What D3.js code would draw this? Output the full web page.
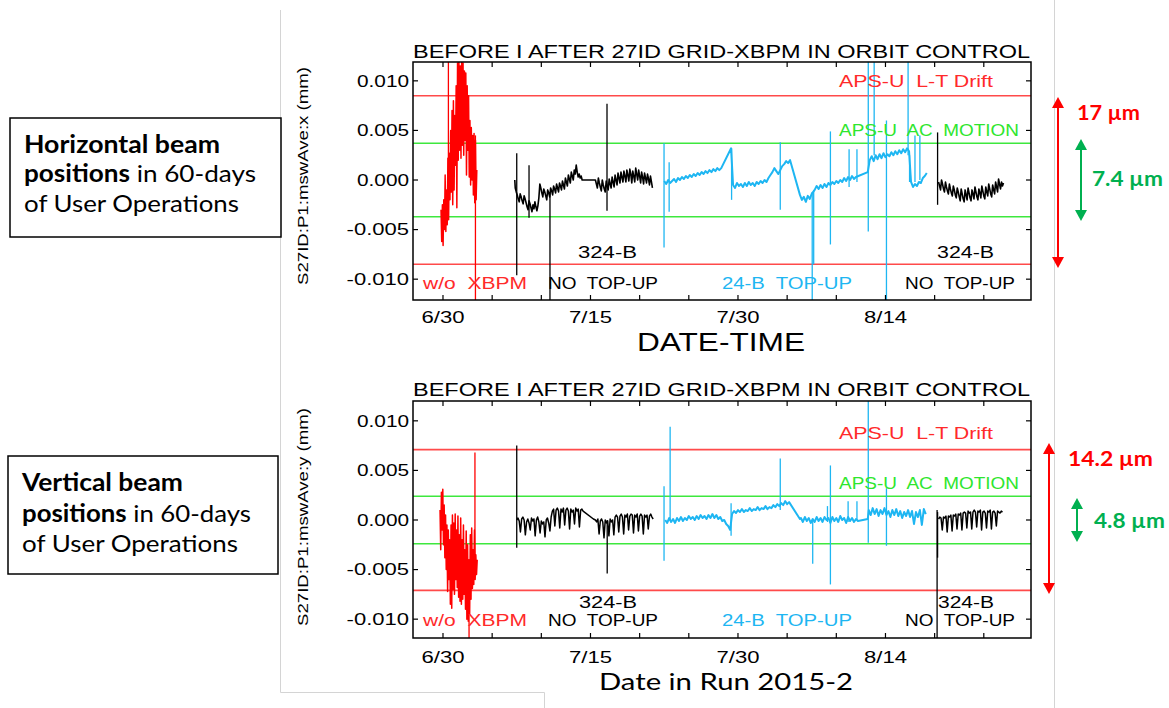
<!DOCTYPE html>
<html><head><meta charset="utf-8">
<script src="https://cdn.jsdelivr.net/npm/d3@7"></script>
<style>html,body{margin:0;padding:0;background:#fff}svg{display:block}</style>
</head><body>
<svg id="chart" width="1169" height="708"></svg>
<script>
// ---------------- DATA ----------------
// x axis: days relative to 2015-06-30
const xDomain = [-3.05, 59.8];
const tickDays = [0, 15, 30, 45];
const tickLabels = ["6/30", "7/15", "7/30", "8/14"];
const minorTickDays = [0, 5, 10, 15, 20, 25, 30, 35, 40, 45, 50, 55];
const yTicks = [-0.010, -0.005, 0.000, 0.005, 0.010];
const yTickLabels = ["-0.010", "-0.005", "0.000", "0.005", "0.010"];
// limits (mm): [L-T drift half width, AC motion half width]
const hLimits = [0.0085, 0.0037];
const vLimits = [0.0071, 0.0024];
const hSpans = ["17 µm", "7.4 µm"];
const vSpans = ["14.2 µm", "4.8 µm"];

// runs: [startDay, stepDay, values]
const hRed = [
  [-0.2, 0.07, [-0.0030, -0.0062, -0.0025, -0.0066, -0.0020, -0.0050, 0.0005, -0.0052, -0.0010, -0.0045,
    0.0022, -0.0040, 0.0027, -0.0020, 0.0050, -0.0012, 0.0070, -0.0025, 0.0080, -0.0010,
    0.0065, 0.0015, 0.0095, -0.0028, 0.0118, 0.0020, 0.0120, 0.0030, 0.0115, 0.0022,
    0.0120, 0.0035, 0.0118, 0.0025, 0.0110, 0.0040, 0.0108, 0.0005, 0.0095, 0.0030,
    0.0085, 0.0003, 0.0060, -0.0005, 0.0053, 0.0000, 0.0045, -0.0015, 0.0047, -0.0023,
    0.0040, -0.0020, 0.0010]]
];
const hRedSpikes = [[0.55, 0.0130, -0.0020], [3.3, 0.0045, -0.0130]];

const hBlack = [
  [7.3, 0, [0.0000]],
  [7.35, 0.1, [-0.0008, -0.0012, -0.0015, -0.0019, -0.0022, -0.0014, -0.0017, -0.0021, -0.0024, -0.0016,
    -0.0019, -0.0023, -0.0027, -0.0030, -0.0021, -0.0024, -0.0028, -0.0032, -0.0025, -0.0029,
    -0.0022, -0.0027, -0.0031, -0.0026, -0.0018, -0.0004, -0.0008, -0.0013, -0.0017, -0.0009,
    -0.0012, -0.0016, -0.0020, -0.0010, -0.0013, -0.0017, -0.0008, -0.0011, -0.0015, -0.0006,
    -0.0009, -0.0013, -0.0004, -0.0008, -0.0012, -0.0003, -0.0006, -0.0010, -0.0001, -0.0005,
    -0.0009, 0.0002, -0.0002, -0.0006, 0.0005, 0.0001, -0.0003, 0.0008, 0.0004, 0.0000,
    0.0010, 0.0006, 0.0015, 0.0008, 0.0003, 0.0006, 0.0002, 0.0004, 0.0000]],
  [15.5, 0.1, [0.0000, -0.0004, -0.0008, 0.0002, -0.0003, -0.0007, -0.0011, 0.0000, -0.0005, -0.0009,
    -0.0012, -0.0001, -0.0006, -0.0010, 0.0001, -0.0004, -0.0008, 0.0003, -0.0002, -0.0007,
    0.0005, 0.0000, -0.0005, 0.0007, 0.0002, -0.0003, 0.0008, 0.0003, -0.0002, 0.0009,
    0.0004, -0.0002, 0.0010, 0.0005, -0.0001, 0.0011, 0.0006, -0.0003, 0.0009, 0.0004,
    -0.0002, 0.0012, 0.0006, 0.0000, 0.0010, 0.0004, -0.0003, 0.0008, 0.0003, -0.0004,
    0.0007, 0.0002, -0.0003, 0.0006, 0.0001, -0.0005, 0.0004, -0.0002, -0.0008]]
];
const hBlack2 = [
  [50.4, 0.1, [-0.0002, -0.0006, -0.0010, 0.0000, -0.0004, -0.0009, -0.0012, -0.0002, -0.0007, -0.0011,
    -0.0014, -0.0004, -0.0009, -0.0013, -0.0016, -0.0006, -0.0010, -0.0015, -0.0018, -0.0008,
    -0.0012, -0.0017, -0.0021, -0.0009, -0.0014, -0.0019, -0.0022, -0.0010, -0.0015, -0.0020,
    -0.0008, -0.0013, -0.0018, -0.0021, -0.0010, -0.0014, -0.0019, -0.0007, -0.0012, -0.0017,
    -0.0020, -0.0009, -0.0013, -0.0018, -0.0006, -0.0011, -0.0016, -0.0019, -0.0007, -0.0012,
    -0.0016, -0.0004, -0.0009, -0.0014, -0.0017, -0.0005, -0.0010, -0.0014, -0.0002, -0.0007,
    -0.0012, 0.0001, -0.0004, -0.0009, -0.0002, -0.0006, -0.0003]]
];
const hBlackSpikes = [[7.5, 0.0027, -0.0096], [8.75, 0.0015, -0.0038], [10.88, -0.0012, -0.0130],
  [16.68, 0.0077, -0.0031], [50.3, 0.0048, -0.0025]];

const hCyan = [
  [22.5, 0.2, [-0.0001, -0.0004, 0.0000, -0.0003, -0.0001, 0.0001, -0.0002, 0.0002, 0.0000, 0.0003,
    0.0001, 0.0004, 0.0002, 0.0005, 0.0003, 0.0006, 0.0004, 0.0007, 0.0005, 0.0008,
    0.0006, 0.0009, 0.0007, 0.0010, 0.0008, 0.0011, 0.0009, 0.0012, 0.0010, 0.0012]],
  [29.3, 0, [0.0032]],
  [29.5, 0.2, [-0.0005, -0.0008, -0.0003, -0.0006, -0.0004, -0.0007, -0.0003, -0.0006, -0.0002, -0.0005,
    -0.0003, -0.0006, -0.0002, -0.0004, -0.0001, -0.0003, 0.0000, -0.0002]],
  [33.1, 0.2, [0.0002, 0.0005, 0.0008, 0.0012, 0.0009, 0.0006, 0.0010, 0.0014, 0.0016, 0.0019, 0.0017, 0.0020]],
  [36.3, 0.2, [-0.0015, -0.0020, -0.0017, -0.0022, -0.0016, -0.0019, -0.0014]],
  [37.8, 0.2, [-0.0010, -0.0006, -0.0009, -0.0005, -0.0008, -0.0004, -0.0007, -0.0003, -0.0005, -0.0002,
    -0.0004, -0.0001, -0.0003, 0.0000, -0.0002, 0.0002, -0.0001, 0.0003, 0.0000, 0.0004, 0.0001, 0.0003]],
  [43.2, 0, [0.0008]],
  [43.4, 0.2, [0.0020, 0.0024, 0.0019, 0.0025, 0.0021, 0.0026, 0.0022, 0.0027, 0.0023, 0.0026,
    0.0024, 0.0028, 0.0025, 0.0029, 0.0026, 0.0030, 0.0027, 0.0031, 0.0028, 0.0032, 0.0029]],
  [47.6, 0.2, [-0.0002, -0.0007, -0.0004, -0.0006, -0.0002, -0.0003, 0.0002, 0.0004, 0.0007]]
];
const hCyanSpikes = [[22.48, 0.0037, -0.0068], [23.0, 0.0018, -0.0032], [29.35, 0.0032, -0.0020],
  [34.3, 0.0038, -0.0030], [37.55, -0.0012, -0.0130], [37.7, -0.0010, -0.0085], [39.4, 0.0049, -0.0065],
  [41.3, 0.0031, -0.0007], [42.1, 0.0031, -0.0002], [43.25, 0.0130, -0.0052], [43.85, 0.0130, 0.0025],
  [45.1, 0.0060, -0.0130], [47.3, 0.0130, 0.0025], [47.45, 0.0025, -0.0002], [48.0, 0.0045, -0.0002],
  [48.5, 0.0045, 0.0000]];

const vRed = [
  [-0.3, 0.07, [0.0010, -0.0030, 0.0028, -0.0010, 0.0031, -0.0025, 0.0015, -0.0038, 0.0005, -0.0050,
    -0.0005, -0.0072, -0.0010, -0.0060, -0.0020, -0.0085, -0.0005, -0.0089, 0.0005, -0.0070,
    -0.0003, -0.0075, 0.0006, -0.0060, -0.0010, -0.0068, 0.0004, -0.0078, -0.0015, -0.0082,
    0.0002, -0.0085, -0.0020, -0.0080, -0.0005, -0.0075, -0.0030, -0.0090, -0.0011, -0.0100,
    -0.0025, -0.0102, -0.0040, -0.0095, -0.0015, -0.0080, -0.0008, -0.0069, -0.0030, -0.0065,
    -0.0010, -0.0060, -0.0035, -0.0055, -0.0040]]
];
const vRedSpikes = [[2.65, -0.0060, -0.0130], [3.25, 0.0068, -0.0040]];

const vBlack = [
  [7.5, 0.125, [0.0000, 0.0002, -0.0001, -0.0012, 0.0001, 0.0003, 0.0000, -0.0015, -0.0002, 0.0001,
    -0.0003, -0.0010, 0.0002, -0.0001, 0.0001, -0.0016, 0.0000, 0.0003, -0.0002, -0.0013,
    -0.0001, -0.0004, -0.0002, -0.0017, 0.0000, 0.0002, -0.0003, -0.0011, 0.0003, 0.0009,
    0.0011, -0.0006, 0.0010, 0.0012, 0.0009, -0.0008, 0.0011, 0.0008, 0.0012, -0.0005,
    0.0010, 0.0012, 0.0009, -0.0009, 0.0011, 0.0008, 0.0010, -0.0004, 0.0012, 0.0009,
    0.0011, -0.0007, 0.0010, 0.0011, 0.0009]],
  [15.3, 0, [0.0001]],
  [15.5, 0.125, [0.0000, -0.0002, 0.0001, -0.0014, -0.0001, 0.0001, -0.0002, -0.0018, 0.0000, -0.0003,
    -0.0001, -0.0016, 0.0001, -0.0002, 0.0000, -0.0015, 0.0003, 0.0005, 0.0003, -0.0012,
    0.0004, 0.0006, 0.0003, -0.0014, 0.0005, 0.0003, 0.0006, -0.0010, 0.0004, 0.0006,
    0.0005, -0.0013, 0.0005, 0.0003, 0.0006, -0.0011, 0.0004, 0.0006, 0.0004, -0.0014,
    0.0005, 0.0003, 0.0005, -0.0009, 0.0004, 0.0006, 0.0003, 0.0001]]
];
const vBlack2 = [
  [50.4, 0.125, [0.0001, 0.0003, 0.0002, -0.0010, 0.0003, 0.0002, 0.0004, -0.0012, 0.0004, 0.0003,
    0.0005, -0.0011, 0.0005, 0.0004, 0.0006, -0.0009, 0.0006, 0.0005, 0.0007, -0.0010,
    0.0007, 0.0008, 0.0007, -0.0008, 0.0009, 0.0007, 0.0008, -0.0009, 0.0008, 0.0010,
    0.0008, -0.0007, 0.0009, 0.0008, 0.0010, -0.0010, 0.0008, 0.0009, 0.0007, -0.0008,
    0.0009, 0.0008, 0.0010, -0.0009, 0.0008, 0.0009, 0.0007, -0.0006, 0.0009, 0.0008,
    0.0007, 0.0009, 0.0008]]
];
const vBlackSpikes = [[7.5, 0.0075, -0.0028], [16.7, 0.0000, -0.0054], [50.25, 0.0010, -0.0130],
  [50.3, 0.0008, -0.0038]];

const vCyan = [
  [22.6, 0.2, [0.0000, -0.0003, 0.0002, -0.0002, 0.0001, -0.0003, 0.0002, -0.0001, 0.0003, -0.0001,
    0.0002, 0.0000, 0.0004, 0.0001, 0.0003, 0.0000, 0.0004, 0.0001, 0.0005, 0.0002,
    0.0004, 0.0001, 0.0005, 0.0002, 0.0006, 0.0002, 0.0005, 0.0001, 0.0003, -0.0001,
    0.0000, -0.0004, -0.0006, -0.0010]],
  [29.4, 0.2, [0.0006, 0.0009, 0.0007, 0.0010, 0.0008, 0.0011, 0.0008, 0.0010, 0.0009, 0.0012,
    0.0009, 0.0011, 0.0010, 0.0013, 0.0010, 0.0012, 0.0011, 0.0014, 0.0011, 0.0013,
    0.0012, 0.0015, 0.0013, 0.0016, 0.0014, 0.0017, 0.0015, 0.0019, 0.0016, 0.0018]],
  [36.3, 0, [0.0001]],
  [36.4, 0.2, [0.0002, -0.0002, 0.0003, -0.0001, 0.0002, -0.0003, 0.0001, -0.0002, 0.0003, -0.0001,
    0.0002, -0.0002, 0.0003, 0.0000, 0.0002, -0.0003, 0.0003, -0.0001, 0.0002, -0.0002,
    0.0004, 0.0000, 0.0002, -0.0003, 0.0003, -0.0001, 0.0002, -0.0002, 0.0001, -0.0001]],
  [43.2, 0, [0.0001]],
  [43.3, 0.2, [0.0010, 0.0005, 0.0012, 0.0006, 0.0011, 0.0004, 0.0010, 0.0006, 0.0012, 0.0005,
    0.0009, 0.0003, 0.0010, 0.0005, 0.0011, 0.0004, 0.0009, 0.0002, 0.0008, 0.0004,
    0.0010, 0.0003, 0.0009, -0.0004, 0.0008, 0.0003, 0.0010, -0.0005, 0.0011, 0.0006]]
];
const vCyanSpikes = [[22.48, 0.0034, -0.0041], [23.1, 0.0094, 0.0000], [29.3, 0.0017, -0.0016],
  [34.3, 0.0062, 0.0010], [37.6, 0.0000, -0.0044], [39.1, 0.0014, -0.0002], [39.4, 0.0055, -0.0065],
  [41.2, 0.0019, -0.0002], [42.1, 0.0019, 0.0000], [43.25, 0.0130, -0.0023], [45.1, 0.0032, -0.0026]];

// ---------------- DRAWING ----------------
const PLOT_FONT = "'Liberation Sans', Arial, sans-serif";
const SLIDE_FONT = "Lato, 'Open Sans', sans-serif";
const C = {red: "#ff0000", cyan: "#1eb6f2", black: "#000", limRed: "#ff4a4a", limGreen: "#3ee83e",
  txtRed: "#ff2a2a", txtGreen: "#2ee62e", slideGreen: "#00b050"};

const svg = d3.select("#chart");
const X0 = 413, X1 = 1031;
const x = d3.scaleLinear().domain(xDomain).range([X0, X1]);

function flatten(runs) {
  const pts = [];
  runs.forEach(([s, st, vals]) => vals.forEach((v, i) => pts.push([s + i * st, v])));
  return pts;
}
function fitText(g, s, x0, x1, yc, size, color, opts = {}) {
  return g.append("text").attr("x", x0).attr("y", yc + size * 0.36)
    .attr("font-family", opts.family || PLOT_FONT).attr("font-size", size)
    .attr("font-weight", opts.weight || "normal").attr("fill", color)
    .attr("textLength", x1 - x0).attr("lengthAdjust", "spacingAndGlyphs")
    .style("white-space", "pre").text(s);
}

// slide decorations (grey picture borders)
const border = svg.append("g").attr("stroke", "#d4d4d4").attr("stroke-width", 1).attr("fill", "none");
border.append("path").attr("d", "M280.5,10 V692.5 H544.5 V708");
border.append("path").attr("d", "M1054.5,0 V708");

const panels = [
  {top: 62, bottom: 300, yDom: [-0.0121, 0.0119], limits: hLimits, spans: hSpans,
   axisLabel: "S27ID:P1:mswAve:x (mm)", labelYc: 176, titleY: 58, xLabY: 317,
   series: [[hRed, hRedSpikes, C.red, 1.5], [hBlack, [], C.black, 1.6], [hBlack2, hBlackSpikes, C.black, 1.6], [hCyan, hCyanSpikes, C.cyan, 2]],
   ann: [["324-B", 578, 637, 252, "#000"], ["324-B", 937, 994, 252, "#000"],
         ["w/o  XBPM", 423, 527, 283, C.txtRed], ["NO  TOP-UP", 548, 658, 283, "#000"],
         ["24-B  TOP-UP", 722, 852, 283, C.cyan], ["NO  TOP-UP", 905, 1015, 283, "#000"],
         ["APS-U  L-T Drift", 839, 993, 81, C.txtRed], ["APS-U  AC  MOTION", 839, 1019, 130, C.txtGreen]],
   arrows: {red: [1058, 97, 268], green: [1081, 139, 221], redTxt: [1077, 1140, 112], greenTxt: [1092, 1163, 178]}},
  {top: 401, bottom: 638, yDom: [-0.0119, 0.0120], limits: vLimits, spans: vSpans,
   axisLabel: "S27ID:P1:mswAve:y (mm)", labelYc: 517, titleY: 396, xLabY: 657,
   series: [[vRed, vRedSpikes, C.red, 1.5], [vBlack, [], C.black, 1.5], [vBlack2, vBlackSpikes, C.black, 1.5], [vCyan, vCyanSpikes, C.cyan, 2]],
   ann: [["324-B", 579, 637, 602, "#000"], ["324-B", 938, 994, 602, "#000"],
         ["w/o  XBPM", 423, 527, 620, C.txtRed], ["NO  TOP-UP", 548, 658, 620, "#000"],
         ["24-B  TOP-UP", 722, 852, 620, C.cyan], ["NO  TOP-UP", 905, 1015, 620, "#000"],
         ["APS-U  L-T Drift", 839, 993, 433, C.txtRed], ["APS-U  AC  MOTION", 839, 1019, 483, C.txtGreen]],
   arrows: {red: [1049, 443, 594], green: [1077, 498, 542], redTxt: [1068, 1153, 458], greenTxt: [1094, 1165, 520]}}
];

panels.forEach((p, pi) => {
  const y = d3.scaleLinear().domain(p.yDom).range([p.bottom, p.top]);
  const g = svg.append("g");
  const clipId = "clip" + pi;
  g.append("clipPath").attr("id", clipId).append("rect")
    .attr("x", X0).attr("y", p.top).attr("width", X1 - X0).attr("height", p.bottom - p.top);
  g.append("rect").attr("x", X0).attr("y", p.top).attr("width", X1 - X0).attr("height", p.bottom - p.top).attr("fill", "#fff");
  const plot = g.append("g").attr("clip-path", `url(#${clipId})`);

  // limit lines
  [[p.limits[0], C.limRed], [-p.limits[0], C.limRed], [p.limits[1], C.limGreen], [-p.limits[1], C.limGreen]]
    .forEach(([v, col]) => plot.append("line").attr("x1", X0).attr("x2", X1)
      .attr("y1", y(v)).attr("y2", y(v)).attr("stroke", col).attr("stroke-width", 1.6));

  // data
  const line = d3.line().x(d => x(d[0])).y(d => y(d[1]));
  p.series.forEach(([runs, spikes, col, sw]) => {
    plot.append("path").datum(flatten(runs)).attr("d", line).attr("fill", "none")
      .attr("stroke", col).attr("stroke-width", sw).attr("stroke-linejoin", "round");
    spikes.forEach(([d, hi, lo]) => plot.append("path").datum([[d, hi], [d, lo]]).attr("d", line)
      .attr("stroke", col).attr("stroke-width", 1.3).attr("fill", "none"));
  });

  // frame
  g.append("rect").attr("x", X0).attr("y", p.top).attr("width", X1 - X0).attr("height", p.bottom - p.top)
    .attr("fill", "none").attr("stroke", "#000").attr("stroke-width", 1.5);

  // ticks (inside, all four sides)
  const tk = g.append("g").attr("stroke", "#000").attr("stroke-width", 1.2);
  minorTickDays.forEach(d => {
    tk.append("line").attr("x1", x(d)).attr("x2", x(d)).attr("y1", p.bottom).attr("y2", p.bottom - 5);
    tk.append("line").attr("x1", x(d)).attr("x2", x(d)).attr("y1", p.top).attr("y2", p.top + 5);
  });
  yTicks.forEach(v => {
    tk.append("line").attr("x1", X0).attr("x2", X0 + 5).attr("y1", y(v)).attr("y2", y(v));
    tk.append("line").attr("x1", X1).attr("x2", X1 - 5).attr("y1", y(v)).attr("y2", y(v));
  });

  // tick labels
  yTicks.forEach((v, i) => {
    const s = yTickLabels[i];
    fitText(g, s, 409 - s.length * 10.4, 409, y(v), 16, "#000");
  });
  tickDays.forEach((d, i) => fitText(g, tickLabels[i], x(d) - 21.5, x(d) + 21.5, p.xLabY, 16, "#000"));

  // title
  fitText(g, "BEFORE I AFTER 27ID GRID-XBPM IN ORBIT CONTROL", 413, 1030, p.titleY - 6.5, 18, "#000");

  // y axis label (rotated)
  g.append("g").attr("transform", `translate(308,${p.labelYc}) rotate(-90)`)
    .append("text").attr("x", -109).attr("y", 0).attr("font-family", PLOT_FONT).attr("font-size", 15)
    .attr("textLength", 218).attr("lengthAdjust", "spacingAndGlyphs").text(p.axisLabel);

  // annotations
  p.ann.forEach(([s, a, b, yc, col]) => fitText(g, s, a, b, yc, 17, col));

  // arrows on the right
  const drawArrow = (ax, y1, y2, col, w, hl) => {
    g.append("line").attr("x1", ax).attr("x2", ax).attr("y1", y1 + hl - 1).attr("y2", y2 - hl + 1)
      .attr("stroke", col).attr("stroke-width", 2);
    g.append("path").attr("d", `M${ax},${y1} L${ax - w},${y1 + hl} L${ax + w},${y1 + hl} Z`).attr("fill", col);
    g.append("path").attr("d", `M${ax},${y2} L${ax - w},${y2 - hl} L${ax + w},${y2 - hl} Z`).attr("fill", col);
  };
  drawArrow(p.arrows.red[0], p.arrows.red[1], p.arrows.red[2], C.red, 6, 11);
  drawArrow(p.arrows.green[0], p.arrows.green[1], p.arrows.green[2], C.slideGreen, 6, 11);
  fitText(g, p.spans[0], p.arrows.redTxt[0], p.arrows.redTxt[1], p.arrows.redTxt[2], 21, C.red, {family: SLIDE_FONT, weight: "bold"});
  fitText(g, p.spans[1], p.arrows.greenTxt[0], p.arrows.greenTxt[1], p.arrows.greenTxt[2], 21, C.slideGreen, {family: SLIDE_FONT, weight: "bold"});
});

// DATE-TIME label (top panel)
svg.append("text").attr("x", 637).attr("y", 351).attr("font-family", PLOT_FONT).attr("font-size", 26)
  .attr("textLength", 168).attr("lengthAdjust", "spacingAndGlyphs").text("DATE-TIME");
// slide x label
svg.append("text").attr("x", 599).attr("y", 690).attr("font-family", SLIDE_FONT).attr("font-size", 23)
  .attr("textLength", 254).attr("lengthAdjust", "spacingAndGlyphs").text("Date in Run 2015-2");

// left boxes
function box(x0, y0, w, h, lines) {
  svg.append("rect").attr("x", x0).attr("y", y0).attr("width", w).attr("height", h)
    .attr("fill", "#fff").attr("stroke", "#000").attr("stroke-width", 1.5);
  lines.forEach(([parts, lx, base, len]) => {
    const t = svg.append("text").attr("x", lx).attr("y", base).attr("font-family", SLIDE_FONT)
      .attr("font-size", 24).attr("fill", "#000").attr("textLength", len).attr("lengthAdjust", "spacingAndGlyphs")
      .style("white-space", "pre");
    parts.forEach(([s, b]) => t.append("tspan").attr("font-weight", b ? "bold" : "normal").text(s));
  });
}
box(10, 118, 271, 119, [
  [[["Horizontal beam", 1]], 24, 153, 196],
  [[["positions", 1], [" in 60-days", 0]], 24, 182, 232],
  [[["of User Operations", 0]], 24, 212, 215]
]);
box(8, 456, 270, 118, [
  [[["Vertical beam", 1]], 22, 491, 161],
  [[["positions", 1], [" in 60-days", 0]], 22, 522, 229],
  [[["of User Operations", 0]], 22, 552, 216]
]);
</script>
</body></html>
